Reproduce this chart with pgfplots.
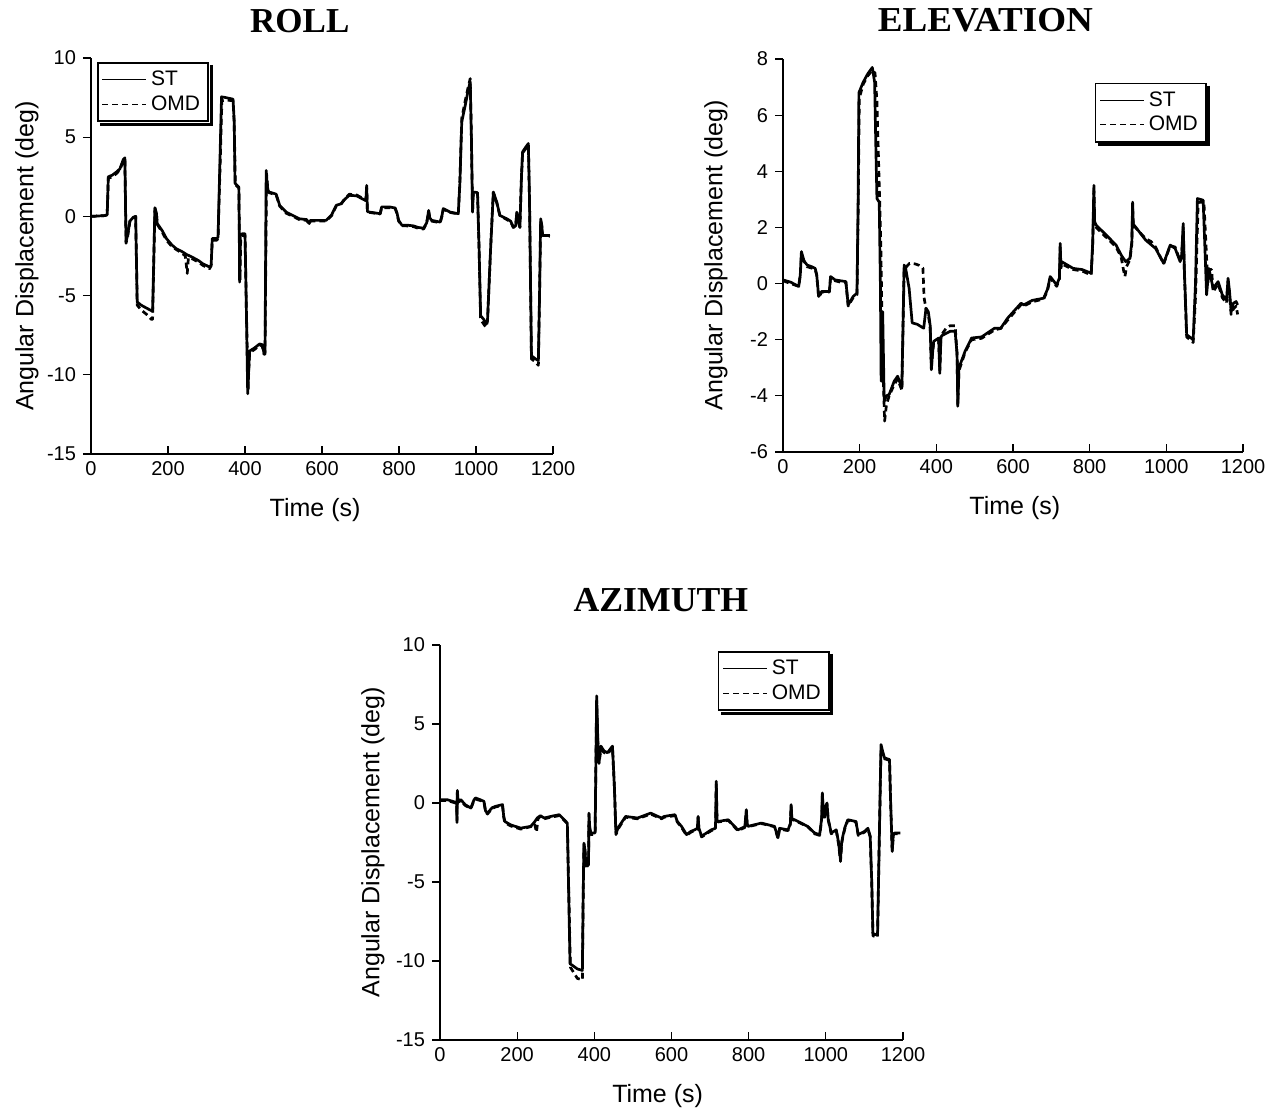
\documentclass[border=0pt]{standalone}
\usepackage{fontspec}
\setmainfont{Liberation Sans}
\newfontfamily\titlefont{Liberation Serif}
\usepackage{pgfplots}
\pgfplotsset{compat=1.18}

\pgfplotsset{
  attplot/.style={
    scale only axis,
    axis x line*=bottom, axis y line*=left,
    axis line style={-, line width=1pt},
    xmin=0, xmax=1200, xtick={0,200,...,1200},
    xtick align=inside, ytick align=outside,
    major tick length=4pt,
    tick style={line width=0.6pt, black},
    tick label style={font=\fontsize{10}{12}\selectfont},
    /pgf/number format/assume math mode=true,
    /pgf/number format/1000 sep={},
    label style={font=\fontsize{12.5}{14}\selectfont},
    xlabel={Time (s)},
    ylabel={Angular Displacement (deg)},
    title style={font=\titlefont\bfseries\fontsize{17.5}{20}\selectfont, anchor=base},
    legend cell align=left,
    legend style={draw=black, line width=0.8pt, fill=white,
      font=\fontsize{10.5}{11}\selectfont, inner sep=2pt, row sep=-0.5pt},
    legend image code/.code={\draw[#1, line width=0.6pt] (0pt,0pt) -- (22pt,0pt);},
  },
  st/.style={black, solid, no markers, line width=1.35pt, line join=round},
  omd/.style={black, no markers, line width=1.35pt, line join=round, dash pattern=on 3pt off 2pt},
}
% solid shadow along the right and bottom edges of a legend box
\newcommand\legshadow[1]{%
  \draw[black, line width=1.5pt]
    ([xshift=1.15pt,yshift=-1.5pt]#1.north east) --
    ([xshift=1.15pt,yshift=-1.15pt]#1.south east) --
    ([xshift=1.5pt,yshift=-1.15pt]#1.south west);}

\begin{document}
\begin{tikzpicture}
\path[use as bounding box] (0,0) rectangle (639pt,554pt);

% ---- ROLL
\begin{axis}[attplot, at={(45.5pt,327pt)}, anchor=south west,
  width=231pt, height=198pt,
  ymin=-15, ymax=10, ytick={-15,-10,...,10},
  title={ROLL}, title style={at={(0.452,1)}, yshift=6.5pt},
  xlabel style={at={(axis description cs:0.485,0)}, anchor=center, yshift=-28pt},
  ylabel style={at={(axis description cs:-0.1385,0.5)}, anchor=center},
  legend style={at={(0.013,0.99)}, anchor=north west, name=legroll},
]
\addplot[st] coordinates {
(0,0)(36,0.05)(42,0.1)(45,2.5)(55,2.6)(66,2.8)(75,3.0)(84,3.6)(88,3.7)(91,-1.6)(95,-1.2)(101,-0.3)(110,-0.05)(116,0)(120,-5.4)(130,-5.6)(145,-5.8)(157,-5.95)(160,-6.0)(166,0.55)(170,0.2)(172,-0.45)(185,-0.9)(196,-1.4)(210,-1.8)(222,-2.05)(235,-2.2)(248,-2.4)(265,-2.6)(280,-2.8)(291,-3.0)(300,-3.1)(308,-3.2)(312,-3.1)(315,-1.4)(327,-1.4)(330,-1.3)(339,7.55)(350,7.5)(369,7.4)(372,6.0)(374,2.1)(384,1.85)(385,-0.5)(386,-4.15)(388,-1.2)(392,-1.1)(400,-1.1)(403,-5)(407,-11.2)(410,-9.5)(412,-8.5)(425,-8.3)(438,-8.05)(445,-8.1)(449,-8.6)(452,-8.6)(455,2.9)(458,1.9)(461,1.55)(475,1.45)(481,1.4)(490,0.7)(507,0.27)(525,0.05)(541,-0.15)(560,-0.2)(567,-0.45)(570,-0.25)(590,-0.25)(611,-0.25)(625,0.1)(637,0.7)(650,0.8)(660,1.1)(671,1.33)(690,1.3)(705,1.1)(714,1.0)(716,1.96)(718,0.3)(724,0.27)(751,0.17)(755,0.6)(775,0.6)(790,0.53)(795,0.2)(799,-0.25)(808,-0.57)(820,-0.55)(838,-0.6)(850,-0.7)(864,-0.74)(872,-0.4)(877,0.38)(880,-0.1)(885,-0.25)(907,-0.36)(912,0.1)(915,0.49)(933,0.27)(954,0.17)(958,2.0)(963,5.97)(972,7.0)(980,8.0)(985,8.5)(988,5.0)(991,0.27)(993,1.54)(1004,1.5)(1008,-2.0)(1012,-6.27)(1020,-6.5)(1026,-6.8)(1030,-6.5)(1038,-2.0)(1045,1.54)(1054,0.9)(1062,0.06)(1080,-0.15)(1090,-0.3)(1097,-0.68)(1103,-0.6)(1106,0.27)(1110,-0.3)(1114,-0.68)(1118,2.5)(1121,4.07)(1130,4.4)(1136,4.6)(1139,1.0)(1144,-8.8)(1155,-9.0)(1162,-9.1)(1165,-5.0)(1168,-0.15)(1171,-0.6)(1173,-1.2)(1192,-1.2)
};
\addlegendentry{ST}
\addplot[omd] coordinates {
(0,0)(36,0.05)(42,0.1)(45,2.4)(55,2.5)(66,2.7)(75,2.95)(84,3.5)(88,3.6)(91,-1.7)(95,-1.3)(101,-0.3)(110,-0.1)(116,0)(120,-5.6)(130,-5.9)(145,-6.2)(157,-6.5)(160,-6.5)(166,0.5)(170,0.2)(172,-0.5)(185,-1.0)(196,-1.5)(210,-1.9)(222,-2.1)(235,-2.3)(245,-2.5)(250,-3.6)(253,-2.6)(265,-2.7)(280,-2.9)(291,-3.1)(300,-3.2)(308,-3.3)(312,-3.1)(315,-1.5)(327,-1.5)(330,-1.4)(340,7.3)(350,7.35)(369,7.3)(372,5.8)(375,2.0)(384,1.8)(385,-0.5)(387,-4.0)(389,-1.3)(392,-1.2)(400,-1.2)(403,-5.2)(408,-11.0)(410,-9.6)(412,-8.6)(425,-8.4)(438,-8.1)(445,-8.2)(449,-8.7)(452,-8.7)(456,2.7)(459,1.8)(462,1.5)(475,1.4)(481,1.35)(490,0.65)(507,0.2)(525,0)(541,-0.2)(560,-0.25)(567,-0.5)(570,-0.3)(590,-0.3)(611,-0.3)(625,0.05)(637,0.65)(650,0.8)(660,1.15)(671,1.4)(690,1.35)(705,1.15)(714,1.0)(716,1.8)(718,0.3)(724,0.25)(751,0.15)(755,0.55)(775,0.55)(790,0.5)(795,0.15)(799,-0.3)(808,-0.6)(820,-0.6)(838,-0.65)(850,-0.75)(864,-0.8)(872,-0.4)(877,0.3)(880,-0.1)(885,-0.3)(907,-0.4)(912,0.05)(915,0.45)(933,0.25)(954,0.15)(958,2.2)(963,6.2)(972,7.3)(980,8.2)(985,8.7)(988,5.0)(991,0.3)(993,1.5)(1004,1.45)(1008,-2.2)(1012,-6.5)(1020,-6.8)(1026,-7.0)(1030,-6.6)(1038,-2.0)(1045,1.5)(1054,0.85)(1062,0.05)(1080,-0.2)(1090,-0.35)(1097,-0.7)(1103,-0.6)(1106,0.2)(1110,-0.3)(1114,-0.7)(1118,2.4)(1121,4.0)(1130,4.3)(1136,4.5)(1139,1.0)(1144,-9.0)(1155,-9.2)(1162,-9.4)(1165,-5.0)(1168,-0.2)(1171,-0.6)(1173,-1.2)(1192,-1.25)
};
\addlegendentry{OMD}
\end{axis}
\legshadow{legroll}

% ---- ELEVATION
\begin{axis}[attplot, at={(391.5pt,328pt)}, anchor=south west,
  width=230pt, height=196.5pt,
  ymin=-6, ymax=8, ytick={-6,-4,...,8},
  title={ELEVATION}, title style={at={(0.44,1)}, yshift=8pt, xscale=1.06},
  xlabel style={at={(axis description cs:0.504,0)}, anchor=center, yshift=-28pt},
  ylabel style={at={(axis description cs:-0.146,0.5)}, anchor=center},
  legend style={at={(0.678,0.94)}, anchor=north west, name=legelev},
]
\addplot[st] coordinates {
(0,0.13)(20,0.05)(41,-0.1)(45,0.3)(48,1.14)(55,0.8)(63,0.66)(75,0.6)(84,0.54)(88,0.3)(93,-0.46)(101,-0.28)(121,-0.28)(124,0.25)(136,0.13)(150,0.1)(164,0.07)(170,-0.76)(183,-0.46)(193,-0.34)(196,3.0)(198,6.8)(209,7.17)(221,7.47)(233,7.7)(239,7.17)(242,5.0)(245,3.03)(251,2.9)(254,0.0)(256,-3.48)(258,-1.0)(260,-1.0)(264,-4.19)(270,-4.0)(277,-3.95)(290,-3.48)(299,-3.3)(310,-3.72)(316,0.66)(320,0.54)(329,-0.17)(337,-1.4)(350,-1.45)(367,-1.59)(373,-0.88)(379,-1.0)(384,-1.5)(387,-3.07)(390,-2.5)(393,-2.06)(406,-1.94)(409,-3.2)(412,-1.9)(415,-1.85)(436,-1.7)(449,-1.7)(454,-2.5)(456,-4.37)(459,-3.0)(475,-2.41)(492,-1.94)(518,-1.9)(552,-1.59)(568,-1.59)(586,-1.23)(621,-0.7)(628,-0.76)(650,-0.6)(680,-0.52)(690,-0.2)(697,0.25)(714,-0.05)(721,0.2)(723,1.43)(725,0.6)(727,0.78)(757,0.54)(780,0.5)(804,0.37)(808,1.5)(811,3.5)(813,2.2)(817,2.08)(843,1.73)(869,1.37)(882,1.02)(894,0.78)(905,0.9)(910,1.5)(912,2.9)(914,2.0)(916,2.08)(929,1.85)(946,1.55)(972,1.25)(993,0.72)(1010,1.37)(1023,1.25)(1036,0.78)(1040,1.0)(1044,2.14)(1047,0.5)(1053,-1.82)(1070,-2.0)(1076,0.0)(1081,3.03)(1096,2.97)(1100,1.5)(1105,-0.4)(1111,0.54)(1122,-0.17)(1135,0.07)(1146,-0.4)(1157,-0.58)(1161,0.19)(1165,-0.3)(1169,-1.0)(1175,-0.7)(1182,-0.64)(1186,-0.76)
};
\addlegendentry{ST}
\addplot[omd] coordinates {
(0,0.1)(20,0.0)(41,-0.1)(45,0.3)(48,1.0)(55,0.8)(63,0.6)(75,0.55)(84,0.5)(88,0.3)(93,-0.5)(101,-0.3)(121,-0.3)(124,0.2)(136,0.1)(150,0.05)(164,0.05)(170,-0.8)(183,-0.5)(193,-0.4)(196,2.5)(199,6.6)(209,7.1)(221,7.4)(233,7.6)(240,7.5)(245,6.5)(250,4.0)(255,1.5)(259,-2.0)(262,-3.5)(265,-4.9)(270,-4.3)(277,-4.0)(290,-3.6)(299,-3.4)(310,-3.8)(316,0.5)(322,0.6)(330,0.72)(345,0.7)(355,0.65)(365,0.55)(368,-0.5)(373,-0.9)(379,-1.1)(384,-1.6)(387,-3.0)(390,-2.5)(393,-2.1)(406,-2.0)(409,-3.1)(412,-1.9)(415,-1.8)(425,-1.6)(436,-1.5)(449,-1.5)(454,-2.5)(456,-4.3)(459,-3.1)(475,-2.45)(492,-2.0)(518,-1.95)(552,-1.65)(568,-1.6)(586,-1.3)(621,-0.75)(628,-0.8)(650,-0.65)(680,-0.55)(690,-0.25)(697,0.2)(714,-0.1)(721,0.15)(723,1.3)(725,0.55)(727,0.7)(757,0.5)(780,0.45)(804,0.3)(808,1.4)(811,3.3)(813,2.1)(817,2.0)(843,1.65)(869,1.3)(882,0.95)(888,0.5)(892,0.25)(896,0.6)(905,0.85)(910,1.4)(912,2.7)(914,2.0)(916,2.05)(929,1.85)(946,1.6)(960,1.5)(972,1.3)(993,0.7)(1010,1.35)(1023,1.3)(1036,0.8)(1040,1.0)(1044,2.0)(1047,0.4)(1053,-1.9)(1070,-2.1)(1076,-0.5)(1083,2.9)(1098,2.9)(1103,1.5)(1108,0.0)(1112,0.5)(1118,0.5)(1122,-0.3)(1135,0.0)(1146,-0.5)(1157,-0.7)(1161,0.1)(1165,-0.4)(1169,-1.1)(1175,-0.9)(1182,-0.8)(1186,-1.1)
};
\addlegendentry{OMD}
\end{axis}
\legshadow{legelev}

% ---- AZIMUTH
\begin{axis}[attplot, at={(220pt,34pt)}, anchor=south west,
  width=231.5pt, height=197.5pt,
  ymin=-15, ymax=10, ytick={-15,-10,...,10},
  title={AZIMUTH}, title style={at={(0.477,1)}, yshift=10.5pt, xscale=1.02},
  xlabel style={at={(axis description cs:0.47,0)}, anchor=center, yshift=-28pt},
  ylabel style={at={(axis description cs:-0.145,0.5)}, anchor=center},
  legend style={at={(0.6,0.985)}, anchor=north west, name=legazim},
]
\addplot[st] coordinates {
(0,0.21)(20,0.2)(40,0.05)(43,0)(44,-1.23)(45,0.8)(47,0.1)(54,0.21)(65,-0.1)(80,-0.32)(88,0.2)(92,0.32)(105,0.2)(114,0.1)(118,-0.5)(123,-0.64)(135,-0.3)(144,-0.21)(162,-0.1)(165,-0.8)(168,-1.17)(183,-1.38)(209,-1.59)(235,-1.48)(245,-1.2)(252,-0.95)(260,-0.8)(270,-0.95)(287,-0.85)(309,-0.74)(322,-1.06)(330,-1.27)(337,-10.17)(356,-10.5)(369,-10.6)(371,-6.0)(373,-2.54)(376,-3.0)(378,-4.0)(385,-3.8)(386,-0.64)(388,-1.5)(391,-1.9)(402,-1.9)(406,6.78)(409,4.0)(412,2.54)(417,3.6)(425,3.3)(434,3.18)(447,3.6)(452,1.0)(456,-1.9)(464,-1.48)(481,-0.85)(512,-0.95)(546,-0.64)(574,-0.95)(581,-0.85)(609,-0.74)(615,-1.17)(626,-1.48)(639,-2.0)(650,-1.8)(660,-1.7)(667,-1.6)(669,-0.85)(671,-1.6)(678,-2.1)(703,-1.7)(714,-1.6)(716,1.38)(718,-1.1)(721,-1.17)(747,-1.06)(772,-1.7)(790,-1.5)(794,-0.42)(796,-1.3)(798,-1.48)(833,-1.27)(867,-1.48)(876,-2.2)(880,-1.6)(902,-1.7)(908,-1.3)(910,-0.1)(912,-1.0)(919,-1.06)(953,-1.48)(971,-1.9)(984,-2.0)(989,-1.0)(991,0.64)(994,-0.9)(997,-0.85)(1000,-0.2)(1003,0)(1006,-1.0)(1014,-1.9)(1027,-1.7)(1033,-2.5)(1038,-3.6)(1041,-2.5)(1044,-2.1)(1050,-1.5)(1057,-1.06)(1078,-1.17)(1084,-2.0)(1100,-1.8)(1109,-1.6)(1115,-2.1)(1119,-5.0)(1122,-8.26)(1134,-8.37)(1138,-3.0)(1143,3.7)(1148,3.2)(1152,2.86)(1165,2.75)(1168,0.0)(1172,-3.07)(1175,-2.0)(1178,-1.9)(1193,-1.9)
};
\addlegendentry{ST}
\addplot[omd] coordinates {
(0,0.15)(20,0.15)(40,0.0)(43,0)(44,-1.1)(45,0.7)(47,0.05)(54,0.15)(65,-0.15)(80,-0.35)(88,0.15)(92,0.25)(105,0.15)(114,0.05)(118,-0.55)(123,-0.7)(135,-0.35)(144,-0.25)(162,-0.15)(165,-0.9)(168,-1.25)(183,-1.45)(209,-1.65)(235,-1.5)(245,-1.3)(250,-1.85)(254,-1.0)(260,-0.85)(270,-1.0)(287,-0.9)(309,-0.8)(322,-1.1)(330,-1.3)(338,-10.4)(356,-11.1)(369,-11.2)(371,-6.2)(373,-2.6)(376,-3.1)(378,-4.1)(385,-3.9)(386,-0.7)(388,-1.6)(391,-2.0)(402,-2.0)(406,6.5)(409,3.9)(412,2.5)(417,3.4)(425,3.2)(434,3.1)(447,3.5)(452,1.0)(456,-2.0)(464,-1.55)(481,-0.9)(512,-1.0)(546,-0.7)(574,-1.0)(581,-0.9)(609,-0.8)(615,-1.2)(626,-1.55)(639,-2.05)(650,-1.85)(660,-1.75)(667,-1.65)(669,-0.9)(671,-1.65)(678,-2.15)(703,-1.75)(714,-1.65)(716,1.2)(718,-1.15)(721,-1.2)(747,-1.1)(772,-1.75)(790,-1.55)(794,-0.5)(796,-1.35)(798,-1.5)(833,-1.3)(867,-1.5)(876,-2.25)(880,-1.65)(902,-1.75)(908,-1.35)(910,-0.2)(912,-1.05)(919,-1.1)(953,-1.5)(971,-1.95)(984,-2.05)(989,-1.1)(991,0.5)(994,-0.95)(997,-0.9)(1000,-0.3)(1003,-0.05)(1006,-1.05)(1014,-1.95)(1027,-1.75)(1033,-2.6)(1038,-3.7)(1041,-2.6)(1044,-2.15)(1050,-1.55)(1057,-1.1)(1078,-1.2)(1084,-2.05)(1100,-1.85)(1109,-1.65)(1115,-2.15)(1119,-5.2)(1122,-8.4)(1134,-8.5)(1138,-3.0)(1143,3.5)(1148,3.1)(1152,2.8)(1165,2.7)(1168,0.0)(1172,-3.0)(1175,-2.0)(1178,-1.95)(1193,-1.95)
};
\addlegendentry{OMD}
\end{axis}
\legshadow{legazim}
\end{tikzpicture}
\end{document}
